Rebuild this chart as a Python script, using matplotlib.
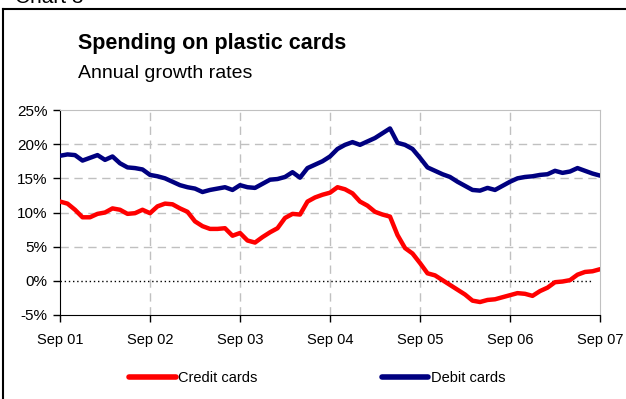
import matplotlib.pyplot as plt
from matplotlib.lines import Line2D
import numpy as np

plt.rcParams['font.family'] = ['Liberation Sans', 'DejaVu Sans']

# monthly annual growth rates, Sep 01 .. Sep 07 (per cent)
credit = [11.6, 11.3, 10.4, 9.3, 9.3, 9.8, 10.0, 10.6, 10.4, 9.8, 9.9, 10.4,
          9.9, 10.9, 11.3, 11.2, 10.6, 10.1, 8.7, 8.0, 7.6, 7.6, 7.7, 6.6,
          7.0, 5.9, 5.6, 6.4, 7.1, 7.7, 9.2, 9.8, 9.7, 11.6, 12.2, 12.6,
          12.9, 13.7, 13.4, 12.8, 11.6, 11.0, 10.1, 9.7, 9.4, 6.7, 4.8, 4.0,
          2.6, 1.1, 0.8, 0.1, -0.6, -1.3, -2.0, -2.9, -3.1, -2.8, -2.7, -2.4,
          -2.1, -1.8, -1.9, -2.2, -1.5, -1.0, -0.2, -0.1, 0.1, 0.9, 1.3, 1.4,
          1.7]
debit = [18.3, 18.5, 18.4, 17.6, 18.0, 18.4, 17.7, 18.2, 17.2, 16.6, 16.5, 16.3,
         15.5, 15.3, 15.0, 14.5, 14.0, 13.7, 13.5, 13.0, 13.3, 13.5, 13.7, 13.3,
         14.0, 13.7, 13.6, 14.2, 14.8, 14.9, 15.2, 15.9, 15.1, 16.5, 17.0, 17.5,
         18.2, 19.3, 19.9, 20.3, 19.9, 20.4, 20.9, 21.6, 22.3, 20.2, 19.9, 19.3,
         18.0, 16.6, 16.1, 15.6, 15.2, 14.5, 13.9, 13.3, 13.2, 13.6, 13.3, 13.9,
         14.5, 15.0, 15.2, 15.3, 15.5, 15.6, 16.1, 15.8, 16.0, 16.5, 16.1, 15.7,
         15.4]
xlabels = ['Sep 01', 'Sep 02', 'Sep 03', 'Sep 04', 'Sep 05', 'Sep 06', 'Sep 07']
yticks = [-5, 0, 5, 10, 15, 20, 25]

months = np.arange(len(credit))

fig = plt.figure(figsize=(6.26, 3.99), dpi=100)
ax = fig.add_axes([60 / 626, 1 - 315 / 399, 540 / 626, 205 / 399])

grid_kw = dict(color='#c0c0c0', lw=1, dashes=(6, 4))
for v in yticks[2:-1]:
    ax.axhline(v, zorder=1, **grid_kw)
for i in range(1, len(xlabels) - 1):
    ax.axvline(i * 12, zorder=1, **grid_kw)
ax.plot([0, 71], [0, 0], color='black', lw=1, ls=(0, (1, 2)), zorder=2)

ax.plot(months, credit, color='#ff0000', lw=3.2, solid_capstyle='round', zorder=3, label='Credit cards')
ax.plot(months, debit, color='#000080', lw=3.2, solid_capstyle='round', zorder=3, label='Debit cards')

ax.set_xlim(0, 72)
ax.set_ylim(-5, 25)
ax.set_xticks(np.arange(0, 73, 12))
ax.set_xticklabels(xlabels, fontsize=10.5)
ax.set_yticks(yticks)
ax.set_yticklabels([f'{v}%' for v in yticks], fontsize=11)
ax.tick_params(direction='out', length=5, width=1, color='black', pad=4)
ax.tick_params(axis='x', pad=8)

for s in ['top', 'right']:
    ax.spines[s].set_color('#c0c0c0')
for s in ['left', 'bottom']:
    ax.spines[s].set_color('black')

fig.text(78 / 626, 1 - 44 / 399, 'Spending on plastic cards', fontsize=15.5, fontweight='bold', va='center')
fig.text(78 / 626, 1 - 74 / 399, 'Annual growth rates', fontsize=14, va='center')
fig.text(15 / 626, 1 - 3 / 399, 'Chart 3', fontsize=15, va='baseline')

# outer frame
fig.add_artist(Line2D([3 / 626, 1], [1 - 9 / 399, 1 - 9 / 399], color='black', lw=1.5))
fig.add_artist(Line2D([3 / 626, 3 / 626], [0, 1 - 9 / 399], color='black', lw=1.5))

leg = fig.legend(loc='center', bbox_to_anchor=(0.507, 1 - 378 / 399), ncol=2, frameon=False,
                 fontsize=10.5, handlelength=3.2, handletextpad=0.2, columnspacing=8.5)
for h in leg.legend_handles:
    h.set_linewidth(4)

fig.savefig('out.png', dpi=100)
